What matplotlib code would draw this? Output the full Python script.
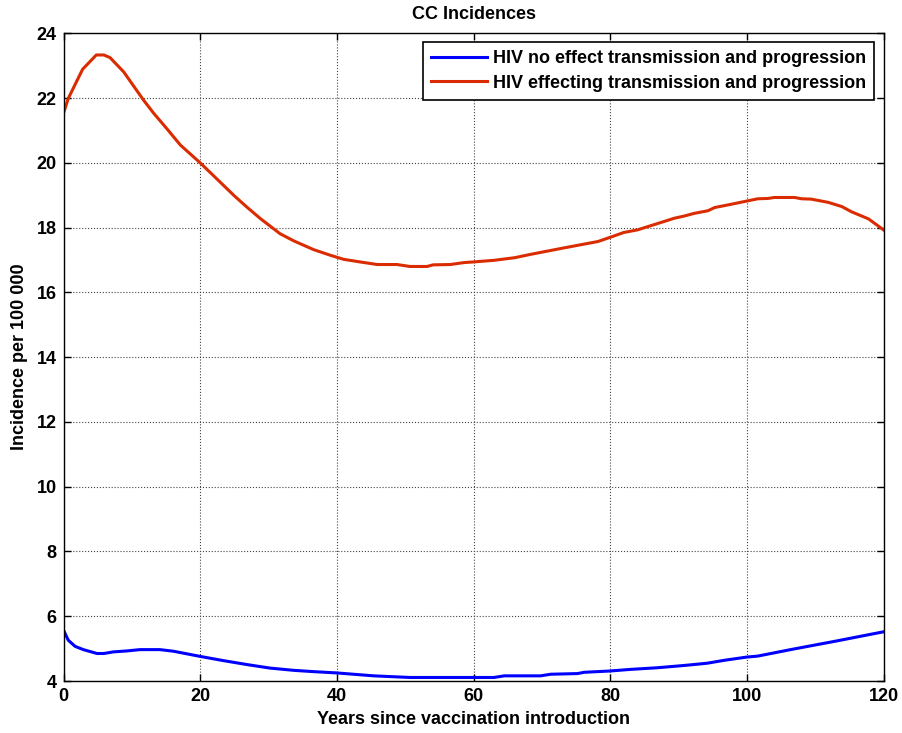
import matplotlib
matplotlib.use("Agg")
import matplotlib.pyplot as plt
import numpy as np

plt.rcParams['font.family'] = ['Liberation Sans', 'DejaVu Sans']
plt.rcParams['font.weight'] = 'bold'

title = "CC Incidences"
xlabel = "Years since vaccination introduction"
ylabel = "Incidence per 100 000"
label_blue = "HIV no effect transmission and progression"
label_red = "HIV effecting transmission and progression"

red_x = [0, 0.7, 2.8, 4.8, 5.9, 6.8, 8.8, 11.7, 13.2, 15.1, 17.1, 20, 22.9, 24.9, 26.8,
         28.8, 31.7, 33.7, 36.6, 39, 41, 43.4, 45.9, 48.8, 50.7, 53.2, 54.1, 56.6, 58.6,
         60, 63, 66, 68.5, 73.4, 78.2, 80, 82, 84, 87, 89.4, 90.9, 92.3, 94.3, 95.3, 97.7,
         100, 101.6, 103.1, 104, 107, 108, 109.4, 111.9, 113.9, 115.3, 117.8, 120]
red_y = [21.53, 21.99, 22.89, 23.33, 23.33, 23.25, 22.81, 21.94, 21.53, 21.06, 20.55, 20.0,
         19.41, 19.0, 18.64, 18.28, 17.81, 17.59, 17.32, 17.15, 17.02, 16.94, 16.86, 16.86,
         16.80, 16.80, 16.85, 16.86, 16.92, 16.94, 16.99, 17.07, 17.18, 17.38, 17.57, 17.70,
         17.85, 17.93, 18.13, 18.29, 18.36, 18.44, 18.52, 18.62, 18.72, 18.82, 18.89, 18.90,
         18.93, 18.93, 18.89, 18.88, 18.78, 18.65, 18.49, 18.27, 17.93]

blue_x = [0, 0.7, 1.7, 2.9, 4.9, 5.9, 7.3, 9.3, 11.2, 14.1, 16.1, 20, 23.4, 26.8, 30.2,
          33.7, 36.6, 40, 45.4, 50.7, 60, 63, 64.5, 69.8, 71.3, 75.2, 76.2, 80, 83, 86.9,
          90.8, 94.2, 96.7, 100, 101.6, 106.4, 113.2, 120]
blue_y = [5.57, 5.26, 5.07, 4.97, 4.85, 4.85, 4.90, 4.93, 4.97, 4.97, 4.92, 4.76, 4.63,
          4.51, 4.40, 4.33, 4.29, 4.25, 4.16, 4.11, 4.11, 4.11, 4.16, 4.16, 4.21, 4.23,
          4.27, 4.31, 4.36, 4.41, 4.48, 4.55, 4.64, 4.74, 4.77, 4.97, 5.24, 5.52]

xticks = [0, 20, 40, 60, 80, 100, 120]
yticks = [4, 6, 8, 10, 12, 14, 16, 18, 20, 22, 24]

fig = plt.figure(figsize=(9.02, 7.33), dpi=100)
ax = fig.add_axes([0.0704, 0.0709, 0.9091, 0.8837])

ax.plot(blue_x, blue_y, color='#0000FF', lw=2.2, label=label_blue)
ax.plot(red_x, red_y, color='#DA2C00', lw=2.2, label=label_red)

ax.set_xlim(0, 120)
ax.set_ylim(4, 24)
ax.set_xticks(xticks)
ax.set_yticks(yticks)
ax.tick_params(direction='in', top=True, right=True, length=5, width=1,
               labelsize=13, pad=5)
for lbl in ax.get_xticklabels() + ax.get_yticklabels():
    lbl.set_fontweight('bold')
ax.grid(True, linestyle=':', color='#444444', linewidth=0.8)
for s in ax.spines.values():
    s.set_linewidth(1.0)
    s.set_color('black')

ax.set_title(title, fontsize=13, fontweight='bold', pad=10)
ax.set_xlabel(xlabel, fontsize=13, fontweight='bold', labelpad=4)
ax.set_ylabel(ylabel, fontsize=13, fontweight='bold', labelpad=6)

leg = ax.legend(loc='upper right', fontsize=13, frameon=True, fancybox=False,
                edgecolor='black', framealpha=1, handlelength=3.1,
                borderaxespad=0.5, borderpad=0.45, labelspacing=0.4,
                handletextpad=0.35)
leg.get_frame().set_linewidth(1.2)
for t in leg.get_texts():
    t.set_fontweight('bold')

fig.savefig('out.png', dpi=100)
